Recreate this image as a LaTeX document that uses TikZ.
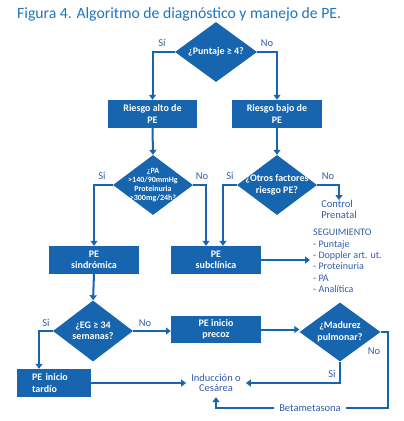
\documentclass[tikz,border=0pt]{standalone}
\usepackage{fontspec}
\setmainfont{Carlito}
\usetikzlibrary{shapes.geometric,arrows.meta}
\definecolor{boxblue}{RGB}{22,101,174}
\definecolor{titleblue}{RGB}{30,118,190}
\definecolor{lblblue}{RGB}{52,92,170}
\tikzset{
  box/.style={draw=none,fill=boxblue,text=white,font=\fontsize{10}{11.5}\selectfont\bfseries,align=center,inner sep=0pt},
  dia/.style={diamond,fill=boxblue,draw=none,inner sep=0pt},
  dtext/.style={text=white,font=\fontsize{10}{11.5}\selectfont\bfseries,align=center,inner sep=0pt},
  lbl/.style={text=lblblue,font=\fontsize{10.5}{11}\selectfont,inner sep=0pt},
  conn/.style={draw=boxblue,line width=2pt},
  arr/.style={conn,-{Triangle[length=5pt,width=7pt]}},
}
\begin{document}
\begin{tikzpicture}[x=1pt,y=-1pt]
\useasboundingbox[fill=white] (0,0) rectangle (404,421);
% title
\node[anchor=base west,inner sep=0pt,text=titleblue,font=\fontsize{15.7}{17}\selectfont] (title) at (17,18.5) {Figura 4. Algoritmo de diagnóstico y manejo de PE.};
% diamonds
\node[dia,minimum width=82pt,minimum height=60pt] (d1) at (216,52) {};
\node[dtext] (t1) at (d1.center) {¿Puntaje ≥ 4?};
\node[dia,minimum width=80pt,minimum height=60pt] (d2) at (153,185) {};
\node[dtext,font=\fontsize{8}{8.8}\selectfont\bfseries] (t2) at (d2.center) {¿PA\\>140/90mmHg\\Proteinuria\\>300mg/24h?};
\node[dia,minimum width=80pt,minimum height=60pt] (d3) at (277,185) {};
\node[dtext] (t3) at (d3.center) {¿Otros factores\\riesgo PE?};
\node[dia,minimum width=80pt,minimum height=61pt] (d4) at (93,331) {};
\node[dtext] (t4) at (d4.center) {¿EG ≥ 34\\semanas?};
\node[dia,minimum width=81pt,minimum height=59pt] (d5) at (340,332) {};
\node[dtext] (t5) at (d5.center) {¿Madurez\\pulmonar?};
% boxes
\node[box,minimum width=89pt,minimum height=28pt] (b1) at (152.5,114) {Riesgo alto de\\PE};
\node[box,minimum width=90pt,minimum height=28pt] (b2) at (277,114) {Riesgo bajo de\\PE};
\node[box,minimum width=90pt,minimum height=28pt] (b3) at (94,260) {PE\\sindrómica};
\node[box,minimum width=90pt,minimum height=28pt] (b4) at (216,260) {PE\\subclínica};
\node[box,minimum width=90pt,minimum height=27pt] (b6) at (216,329.5) {PE inicio\\precoz};
\node[box,minimum width=74pt,minimum height=28pt,align=left,text width=44pt] (b5) at (54,383) {PE inicio\\tardío};
% text nodes
\node[lbl,font=\fontsize{10.5}{11.2}\selectfont,align=left,anchor=north] (cp) at (339,200) {Control\\Prenatal};
\node[lbl,font=\fontsize{10}{11.3}\selectfont,align=left,anchor=west,inner sep=3pt] (seg) at (310,261) {SEGUIMIENTO\\- Puntaje\\- Doppler art. ut.\\- Proteinuria\\- PA\\- Analítica};
\node[lbl,font=\fontsize{10.5}{10.5}\selectfont,align=center,inner sep=5pt] (ind) at (216,383) {Inducción o\\Cesárea};
\node[lbl,font=\fontsize{10.5}{11}\selectfont,inner sep=5pt] (beta) at (310,408) {Betametasona};
% connectors
\draw[arr] (d1.west) -| (b1.north);
\draw[arr] (d1.east) -| (b2.north);
\draw[arr] (b1.south) -- (d2.north);
\draw[arr] (b2.south) -- (d3.north);
\draw[arr] (d2.west) -| (b3.north);
\draw[arr] (d2.east) -| ([xshift=-10pt]b4.north);
\draw[arr] (d3.west) -| ([xshift=7pt]b4.north);
\draw[arr] (d3.east) -| (cp.north);
\draw[arr] (b4.east) -- (seg.west |- b4.east);
\draw[arr] (b3.south) -- (d4.north);
\draw[arr] (d4.west) -| ([xshift=-15pt]b5.north);
\draw[arr] (d4.east) -- (d4.east -| b6.west);
\draw[arr] (b6.east) -- (b6.east -| d5.west);
\draw[arr] (b5.east) -- (b5.east -| ind.west);
\draw[arr] (d5.south) |- (ind.east);
\draw[conn] (d5.east) -- ++(7,0) |- (beta.east);
\draw[arr] (beta.west) -| (ind.south);
% branch labels
\node[lbl] (l1) at (162,43) {Sí};
\node[lbl] (l2) at (267,43) {No};
\node[lbl] (l3) at (102,176) {Si};
\node[lbl] (l4) at (202,176) {No};
\node[lbl] (l5) at (230,176) {Si};
\node[lbl] (l6) at (328,176) {No};
\node[lbl] (l7) at (46,323) {Si};
\node[lbl] (l8) at (145,323) {No};
\node[lbl] (l9) at (332,374) {Si};
\node[lbl] (l10) at (374,351) {No};
\end{tikzpicture}
\end{document}
